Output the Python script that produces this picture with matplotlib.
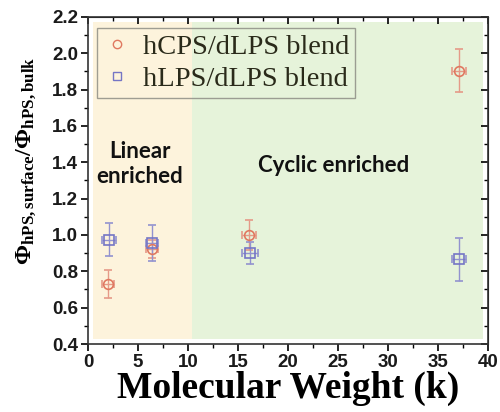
import numpy as np
import matplotlib
matplotlib.use('Agg')
import matplotlib.pyplot as plt
from matplotlib.ticker import MultipleLocator, FormatStrFormatter
from matplotlib.lines import Line2D

# Data
mw_cps = [2.0, 6.4, 16.1, 37.1]
phi_cps = [0.73, 0.925, 1.00, 1.905]
yerr_cps = [0.078, 0.05, 0.08, 0.12]
xerr_cps = [0.6, 0.6, 0.7, 0.7]

mw_lps = [2.1, 6.4, 16.2, 37.1]
phi_lps = [0.975, 0.955, 0.90, 0.867]
yerr_lps = [0.09, 0.10, 0.06, 0.118]
xerr_lps = [0.7, 0.6, 0.8, 0.7]

linear_span = [0.5, 10.4]
cyclic_span = [10.4, 39.5]
shade_y = [0.43, 2.17]

plt.rcParams['mathtext.fontset'] = 'custom'
plt.rcParams['mathtext.rm'] = 'Liberation Serif:bold'
plt.rcParams['mathtext.bf'] = 'Liberation Serif:bold'
plt.rcParams['mathtext.it'] = 'Liberation Serif:bold'

fig = plt.figure(figsize=(5.0, 4.12), dpi=100)
ax = fig.add_axes([0.176, 0.165, 0.8, 0.794])

# shaded regions
ax.fill_between(linear_span, shade_y[0], shade_y[1], color='#fdf3dc', lw=0, zorder=0)
ax.fill_between(cyclic_span, shade_y[0], shade_y[1], color='#e6f3da', lw=0, zorder=0)

red = '#e07860'
blue = '#7575c5'
ax.errorbar(mw_cps, phi_cps, yerr=yerr_cps, xerr=xerr_cps, fmt='o', mfc='none',
            mec=red, ms=7, mew=1.2, ecolor='#e59a88', elinewidth=1.0, capsize=3,
            zorder=3)
ax.errorbar(mw_lps, phi_lps, yerr=yerr_lps, xerr=xerr_lps, fmt='s', mfc='none',
            mec=blue, ms=7, mew=1.2, ecolor='#9292cf', elinewidth=1.0, capsize=3,
            zorder=3)

ax.set_xlim(0, 40)
ax.set_ylim(0.4, 2.2)
ax.xaxis.set_major_locator(MultipleLocator(5))
ax.xaxis.set_minor_locator(MultipleLocator(2.5))
ax.yaxis.set_major_locator(MultipleLocator(0.2))
ax.yaxis.set_minor_locator(MultipleLocator(0.1))
ax.yaxis.set_major_formatter(FormatStrFormatter('%.1f'))

ax.tick_params(which='both', direction='out', top=False, right=False)
ax.tick_params(which='major', length=5, width=1.2, pad=2)
ax.tick_params(which='minor', length=3, width=1.0)
for lab in ax.get_xticklabels() + ax.get_yticklabels():
    lab.set_fontfamily('Liberation Sans')
    lab.set_fontweight('bold')
    lab.set_fontsize(13.5)
    lab.set_color('#1a1a1a')

# inward ticks on top and right
sec_x = ax.secondary_xaxis('top')
sec_x.xaxis.set_major_locator(MultipleLocator(5))
sec_x.xaxis.set_minor_locator(MultipleLocator(2.5))
sec_x.tick_params(which='both', direction='in', labeltop=False)
sec_x.tick_params(which='major', length=5, width=1.2)
sec_x.tick_params(which='minor', length=3, width=1.0)
sec_y = ax.secondary_yaxis('right')
sec_y.yaxis.set_major_locator(MultipleLocator(0.2))
sec_y.yaxis.set_minor_locator(MultipleLocator(0.1))
sec_y.tick_params(which='both', direction='in', labelright=False)
sec_y.tick_params(which='major', length=5, width=1.2)
sec_y.tick_params(which='minor', length=3, width=1.0)
for sp in ax.spines.values():
    sp.set_linewidth(1.2)
    sp.set_color('#333333')

ax.set_xlabel('Molecular Weight (k)', fontfamily='Liberation Serif', fontweight='bold',
              fontsize=27, labelpad=0)
ax.set_ylabel(r'$\Phi_{\mathrm{hPS,surface}}/\Phi_{\mathrm{hPS,bulk}}$', fontsize=17.5)
ax.yaxis.set_label_coords(-0.125, 0.56)

ax.text(5.2, 1.39, 'Linear\nenriched', ha='center', va='center', fontfamily='Lato',
        fontweight='bold', fontsize=16, linespacing=1.25, color='#111111')
ax.text(24.6, 1.385, 'Cyclic enriched', ha='center', va='center', fontfamily='Lato',
        fontweight='bold', fontsize=16, color='#111111')

handles = [Line2D([], [], ls='none', marker='o', mfc='none', mec=red, ms=6, mew=1.0),
           Line2D([], [], ls='none', marker='s', mfc='none', mec=blue, ms=5.5, mew=1.0)]
labels = ['hCPS/dLPS blend', 'hLPS/dLPS blend']
leg = ax.legend(handles, labels, loc='upper left', bbox_to_anchor=(0.023, 0.966),
                prop={'family': 'Liberation Serif', 'size': 20.5},
                frameon=True, fancybox=False, handletextpad=0.4, borderpad=0.2,
                labelspacing=0.22, handlelength=1.0, borderaxespad=0)
leg.get_frame().set_edgecolor('#888880')
leg.get_frame().set_linewidth(1.0)
leg.get_frame().set_facecolor('none')
for t in leg.get_texts():
    t.set_color('#2a2a1a')

fig.savefig('out.png', dpi=100)
